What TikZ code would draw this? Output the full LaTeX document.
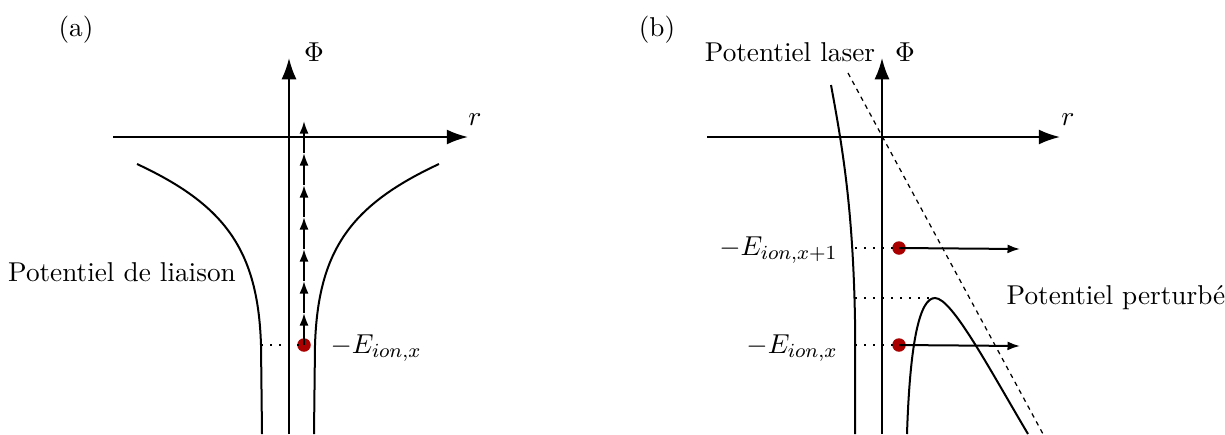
\documentclass[tikz,border=0pt]{standalone}
\usetikzlibrary{arrows.meta}
\definecolor{dotred}{RGB}{170,0,0}
\begin{document}
\begin{tikzpicture}[x=0.4pt,y=-0.4pt,
  every node/.style={font=\fontsize{10.9}{13.5}\selectfont},
  axis/.style={line width=0.8pt,-{Latex[length=8.5pt,width=6pt]}},
  curve/.style={line width=0.8pt},
  smallarrow/.style={line width=0.8pt,-{Latex[length=5pt,width=3.6pt]}},
  dotline/.style={line width=0.8pt,dash pattern=on 0.8pt off 2.8pt},
  dashline/.style={line width=0.5pt,dash pattern=on 1.8pt off 1.8pt},
  reddot/.style={circle,fill=dotred,inner sep=0pt,minimum size=5.4pt},
  lbl/.style={inner sep=0pt}]
\useasboundingbox (0,0) rectangle (1225,434);
% ---------- panel (a)
\node[lbl] (la) at (76,30) {(a)};
\coordinate (aYb) at (289,434);
\coordinate (aYt) at (289,58);
\coordinate (aXl) at (113,137);
\coordinate (aXr) at (468,137);
\draw[axis] (aYb) -- (aYt);
\draw[axis] (aXl) -- (aXr);
\node[lbl] (aPhi) at (314,52) {$\Phi$};
\node[lbl] (ar) at (475,120) {$r$};
\draw[curve] (137,164) .. controls (225,205) and (258,250) .. (261,345) -- (262,434);
\draw[curve] (439,164) .. controls (351,205) and (318,250) .. (315,345) -- (314,434);
\coordinate (aDl) at (261,345);
\node[reddot] (aDot) at (304,345) {};
\draw[dotline] (aDl) -- (aDot.center);
\coordinate (t1) at (304,313);
\coordinate (t2) at (304,281);
\coordinate (t3) at (304,249);
\coordinate (t4) at (304,217);
\coordinate (t5) at (304,185);
\coordinate (t6) at (304,153);
\coordinate (t7) at (304,121);
\draw[smallarrow] (aDot.center) -- (t1);
\draw[smallarrow] (t1) -- (t2);
\draw[smallarrow] (t2) -- (t3);
\draw[smallarrow] (t3) -- (t4);
\draw[smallarrow] (t4) -- (t5);
\draw[smallarrow] (t5) -- (t6);
\draw[smallarrow] (t6) -- (t7);
\node[lbl,anchor=west] (aE) at (330,348) {$-E_{ion,x}$};
\node[lbl] (aPot) at (122,272) {Potentiel de liaison};
% ---------- panel (b)
\node[lbl] (lb) at (657,30) {(b)};
\coordinate (bYb) at (882,434);
\coordinate (bYt) at (882,58);
\coordinate (bXl) at (707,137);
\coordinate (bXr) at (1060,137);
\draw[axis] (bYb) -- (bYt);
\draw[axis] (bXl) -- (bXr);
\node[lbl] (bPhi) at (905,52) {$\Phi$};
\node[lbl] (br) at (1068,120) {$r$};
\node[lbl] (bLas) at (790,52) {Potentiel laser};
\coordinate (dA) at (848,73);
\coordinate (dB) at (1043,434);
\draw[dashline] (dA) -- (dB);
\draw[curve] (831,85) .. controls (843,150) and (853,210) .. (855,320) -- (855,434);
\draw[curve] (907,434) .. controls (910,340) and (920,298) .. (935,298)
  .. controls (952,298) and (990,370) .. (1028,434);
\coordinate (bL1) at (855,248);
\coordinate (bL2) at (855,298);
\coordinate (bL3) at (855,345);
\coordinate (bPk) at (935,298);
\node[reddot] (bDot1) at (899,248) {};
\node[reddot] (bDot2) at (899,345) {};
\coordinate (bA1) at (1020,249);
\coordinate (bA2) at (1020,346);
\draw[dotline] (bL1) -- (bDot1.center);
\draw[dotline] (bL2) -- (bPk);
\draw[dotline] (bL3) -- (bDot2.center);
\draw[smallarrow] (bDot1.center) -- (bA1);
\draw[smallarrow] (bDot2.center) -- (bA2);
\node[lbl,anchor=east] (bE1) at (838,250) {$-E_{ion,x+1}$};
\node[lbl,anchor=east] (bE2) at (838,348) {$-E_{ion,x}$};
\node[lbl] (bPert) at (1116,298) {Potentiel perturbé};
\end{tikzpicture}
\end{document}
